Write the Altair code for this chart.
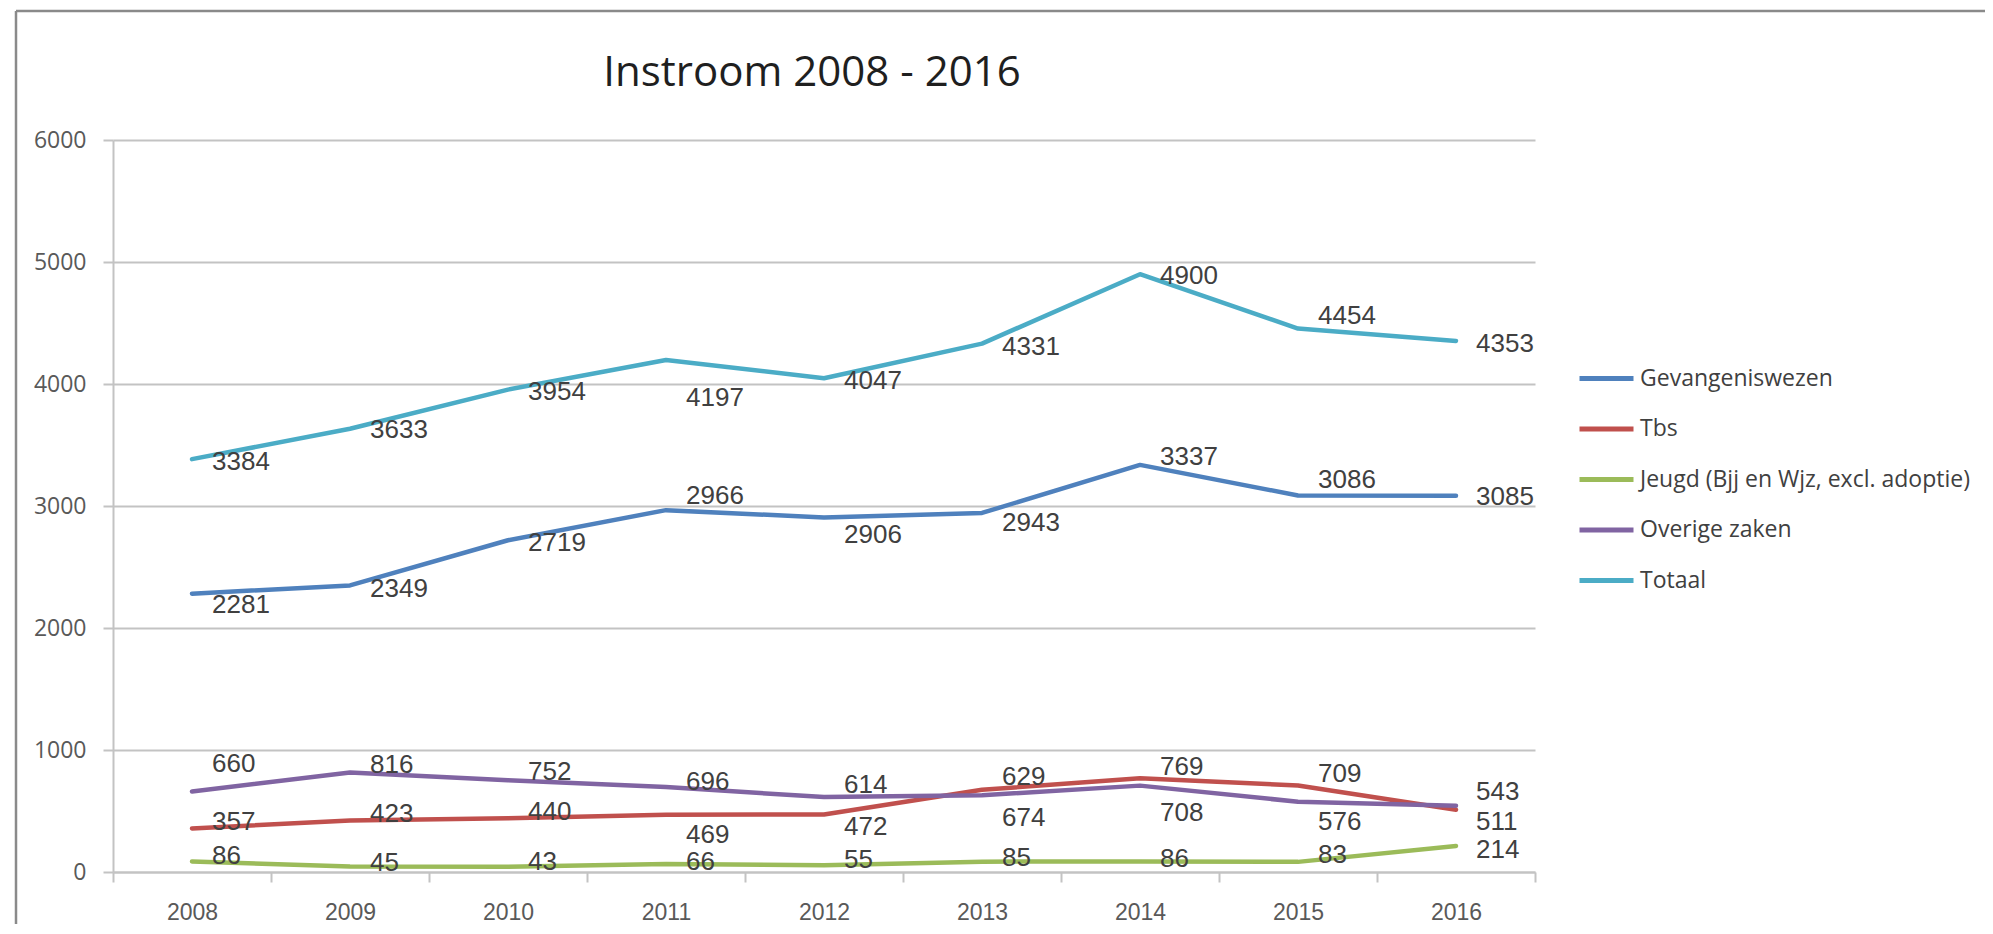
import altair as alt
import pandas as pd

# ---- data ----
chart_title = "Instroom 2008 - 2016"
years = ["2008", "2009", "2010", "2011", "2012", "2013", "2014", "2015", "2016"]
series_names = [
    "Gevangeniswezen",
    "Tbs",
    "Jeugd (Bjj en Wjz, excl. adoptie)",
    "Overige zaken",
    "Totaal",
]
gevangeniswezen = [2281, 2349, 2719, 2966, 2906, 2943, 3337, 3086, 3085]
tbs = [357, 423, 440, 469, 472, 674, 769, 709, 511]
jeugd = [86, 45, 43, 66, 55, 85, 86, 83, 214]
overige_zaken = [660, 816, 752, 696, 614, 629, 708, 576, 543]
totaal = [3384, 3633, 3954, 4197, 4047, 4331, 4900, 4454, 4353]
y_ticks = [0, 1000, 2000, 3000, 4000, 5000, 6000]

# ---- styling ----
colors = ["#4F81BD", "#C0504D", "#9BBB59", "#8064A2", "#4BACC6"]
# vertical nudge (px) of each data label, as placed in the original chart
label_nudge = {
    "Gevangeniswezen": [11, 4, 3, -14, 18, 10, -8, -16, 1],
    "Tbs": [-6, -6, -6, 20, 13, 28, -11, -12, 12],
    "Jeugd (Bjj en Wjz, excl. adoptie)": [-6, -4, -5, -2, -5, -4, -3, -7, 4],
    "Overige zaken": [-27, -7, -8, -5, -12, -18, 27, 20, -14],
    "Totaal": [3, 1, 2, 38, 3, 3, 2, -13, 3],
}

values_by_series = [gevangeniswezen, tbs, jeugd, overige_zaken, totaal]
rows = []
for s_idx, (name, vals) in enumerate(zip(series_names, values_by_series)):
    for y_idx, (yr, v) in enumerate(zip(years, vals)):
        rows.append({"year": yr, "series": name, "value": v,
                     "sorder": s_idx, "nudge": label_nudge[name][y_idx]})
df = pd.DataFrame(rows)

W, H = 1422, 732
LABEL_GRAY = "#595959"
GRID = "#c3c3c3"

x_enc = alt.X(
    "year:O",
    sort=years,
    scale=alt.Scale(type="band", paddingInner=0, paddingOuter=0),
    axis=alt.Axis(
        title=None, labelAngle=0, tickBand="extent", grid=False,
        domainColor=GRID, domainWidth=2, tickColor=GRID, tickWidth=2, tickSize=10,
        labelFont="Liberation Sans", labelFontSize=23, labelColor=LABEL_GRAY,
        labelPadding=19,
    ),
)
y_enc = alt.Y(
    "value:Q",
    scale=alt.Scale(domain=[0, 6000], nice=False),
    axis=alt.Axis(
        title=None, values=y_ticks, format="d", grid=True,
        gridColor=GRID, gridWidth=2, domainColor=GRID, domainWidth=2,
        tickColor=GRID, tickWidth=2, tickSize=10,
        labelFont="Open Sans", labelFontSize=23, labelColor=LABEL_GRAY,
        labelPadding=17,
    ),
)
color_enc = alt.Color(
    "series:N",
    sort=series_names,
    scale=alt.Scale(domain=series_names, range=colors),
    legend=alt.Legend(
        title=None, orient="none", legendX=1464, legendY=209,
        symbolType="stroke", symbolSize=2916, symbolStrokeWidth=5,
        labelFont="Open Sans", labelFontSize=23, labelColor="#404040",
        labelOffset=4, rowPadding=8.5, padding=0, labelLimit=600,
    ),
)

lines = alt.Chart(df).mark_line(
    strokeWidth=4.5, strokeCap="round", strokeJoin="round"
).encode(x=x_enc, y=y_enc, color=color_enc, order="sorder:Q")

labels = alt.Chart(df).mark_text(
    align="left", baseline="middle", dx=20, dy=alt.ExprRef("datum.nudge"),
    font="Liberation Sans", fontSize=26, color="#404040",
).encode(
    x=alt.X("year:O", sort=years),
    y=alt.Y("value:Q"),
    text=alt.Text("value:Q", format="d"),
)

title = alt.Chart(pd.DataFrame({"t": [chart_title]})).mark_text(
    align="center", baseline="alphabetic",
    font="Open Sans", fontSize=42, color="#1f1f1f",
).encode(x=alt.value(699), y=alt.value(-54), text="t:N")

frame_df = pd.DataFrame({"k": [0]})
frame_top = alt.Chart(frame_df).mark_rule(color="#8a8a8a", strokeWidth=2.5).encode(
    x=alt.value(-97), x2=alt.value(1880), y=alt.value(-129)
)
frame_left = alt.Chart(frame_df).mark_rule(color="#8a8a8a", strokeWidth=2.5).encode(
    x=alt.value(-97), y=alt.value(-129), y2=alt.value(800)
)

chart = alt.layer(frame_top, frame_left, title, lines, labels).properties(
    width=W, height=H,
    autosize=alt.AutoSizeParams(type="none"),
    padding={"left": 105, "top": 132, "right": 450, "bottom": 52},
    background="white",
).configure_view(stroke=None)

chart.save("out.html", embed_options={"renderer": "svg", "actions": False})
